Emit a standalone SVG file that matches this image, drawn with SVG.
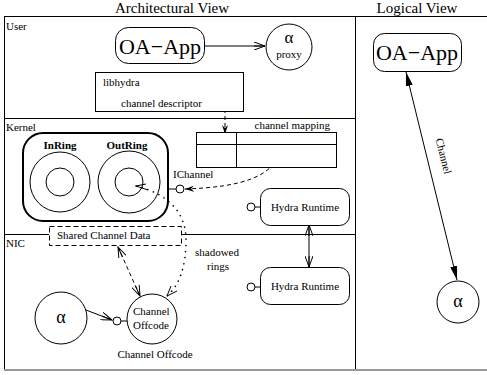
<svg xmlns="http://www.w3.org/2000/svg" width="487" height="375" viewBox="0 0 487 375">
<style>
text{font-family:"Liberation Serif","Times New Roman",Times,"DejaVu Serif",serif;fill:#000}
.s{font-size:11px}
.t{font-size:15px}
.big{font-size:22px}
.ln{fill:none;stroke:#000;stroke-width:1}
.fr{fill:none;stroke:#000;stroke-width:1}
.dash{fill:none;stroke:#000;stroke-width:1;stroke-dasharray:4 3}
.dot{fill:none;stroke:#000;stroke-width:1.6;stroke-dasharray:0.1 6;stroke-linecap:round}
.nd{fill:#fff;stroke:#000;stroke-width:1}
</style>
<defs>
<marker id="op" viewBox="0 0 12 8" refX="11" refY="4" markerWidth="12" markerHeight="8" markerUnits="userSpaceOnUse" orient="auto-start-reverse">
<path d="M0,0 L11,4 L0,8 M0,4 L11,4" fill="none" stroke="#000" stroke-width="1"/>
</marker>
<marker id="fl" viewBox="0 0 14 7" refX="14" refY="3.5" markerWidth="14" markerHeight="7" markerUnits="userSpaceOnUse" orient="auto-start-reverse">
<path d="M0,0 L14,3.5 L0,7 Z" fill="#000"/>
</marker>
<marker id="sm" viewBox="0 0 9 6" refX="9" refY="3" markerWidth="9" markerHeight="6" markerUnits="userSpaceOnUse" orient="auto-start-reverse">
<path d="M0,0 L9,3 L0,6 L3,3 Z" fill="#000"/>
</marker>
</defs>
<rect width="487" height="375" fill="#fff"/>
<text class="t" x="172" y="13" text-anchor="middle">Architectural View</text>
<text class="t" x="417" y="13" text-anchor="middle">Logical View</text>
<g id="frame">
<rect class="fr" x="4.5" y="16.5" width="483" height="353"/>
<line class="fr" x1="355.5" y1="16" x2="355.5" y2="370"/>
<line class="fr" x1="4" y1="118.5" x2="355" y2="118.5"/>
<line class="fr" x1="4" y1="234.5" x2="49" y2="234.5"/>
<line class="fr" x1="182" y1="234.5" x2="355" y2="234.5"/>
<line x1="4" y1="370" x2="487" y2="370" stroke="#999" stroke-width="2"/>
<text class="s" x="6" y="30">User</text>
<text class="s" x="6" y="131">Kernel</text>
<text class="s" x="6" y="247">NIC</text>
</g>
<g id="connectors">
<path class="ln" d="M204,46 L265,46" marker-end="url(#op)"/>
<path class="dash" d="M209,104 H225 V134" marker-start="url(#sm)" marker-end="url(#sm)"/>
<path class="dash" d="M185,189 C240,187 280,178 283,140" marker-start="url(#sm)" marker-end="url(#sm)"/>
<path class="dot" d="M136,186 C165,193 186,210 186,240 C186,265 180,285 167,296"/>
<path class="ln" d="M148,190 L136,186 M136,186 L146,184 M167,296 L171,286 M167,296 L177,291"/>
<path class="dash" d="M118,247 L140,296" stroke-width="1.3" marker-start="url(#op)" marker-end="url(#op)"/>
<path class="ln" d="M86,310 L112,320" stroke-width="1.3" marker-end="url(#op)"/>
<path class="ln" d="M309,225 V267" marker-start="url(#op)" marker-end="url(#op)"/>
<path class="ln" d="M406,72 L457,280" stroke-width="1.2" marker-start="url(#fl)" marker-end="url(#fl)"/>
<text class="s" transform="translate(440,157) rotate(76)" text-anchor="middle">Channel</text>
</g>
<g id="oa-app">
<rect class="nd" x="115.5" y="27.5" width="89" height="36" rx="13"/>
<text class="big" x="160" y="54" text-anchor="middle">OA−App</text>
</g>
<g id="proxy">
<circle class="nd" cx="289" cy="47" r="23"/>
<text x="289" y="43" text-anchor="middle" font-size="17">α</text>
<text class="s" x="289" y="58" text-anchor="middle">proxy</text>
</g>
<g id="libhydra">
<rect class="nd" x="95.5" y="72.5" width="148" height="39"/>
<text class="s" x="103" y="86">libhydra</text>
<text class="s" x="121" y="107">channel descriptor</text>
</g>
<g id="channel-mapping">
<text class="s" x="330" y="129" text-anchor="end">channel mapping</text>
<rect class="nd" x="196.5" y="132.5" width="140" height="35"/>
<line class="ln" x1="196" y1="144.5" x2="337" y2="144.5"/>
<line class="ln" x1="236.5" y1="132" x2="236.5" y2="168"/>
</g>
<g id="rings">
<rect x="23" y="133" width="145" height="88" rx="20" fill="none" stroke="#000" stroke-width="2"/>
<circle class="ln" cx="60" cy="182" r="30"/>
<circle class="ln" cx="60" cy="182" r="14"/>
<circle class="ln" cx="129" cy="182" r="31"/>
<circle class="ln" cx="129" cy="182" r="14"/>
<text class="s" x="60" y="149" text-anchor="middle" font-weight="bold">InRing</text>
<text class="s" x="127" y="149" text-anchor="middle" font-weight="bold">OutRing</text>
</g>
<g id="ichannel">
<line class="ln" x1="168" y1="189" x2="176" y2="189"/>
<circle class="nd" cx="180" cy="189" r="4"/>
<text class="s" x="173" y="178">IChannel</text>
</g>
<g id="hydra-runtime-kernel">
<line class="ln" x1="255" y1="207" x2="261" y2="207"/>
<circle class="nd" cx="251" cy="207" r="4"/>
<rect class="nd" x="260.5" y="188.5" width="89" height="37" rx="10"/>
<text class="s" x="305" y="211" text-anchor="middle">Hydra Runtime</text>
</g>
<g id="hydra-runtime-nic">
<line class="ln" x1="255" y1="287" x2="261" y2="287"/>
<circle class="nd" cx="251" cy="287" r="4"/>
<rect class="nd" x="260.5" y="267.5" width="89" height="37" rx="10"/>
<text class="s" x="305" y="290" text-anchor="middle">Hydra Runtime</text>
</g>
<g id="shared-channel-data">
<rect x="49.5" y="226.5" width="132" height="19" fill="#fff" stroke="#000" stroke-dasharray="5 3"/>
<text class="s" x="57" y="239">Shared Channel Data</text>
</g>
<g id="shadowed-label">
<text class="s" x="195" y="256">shadowed</text>
<text class="s" x="218" y="270" text-anchor="middle">rings</text>
</g>
<g id="alpha-nic">
<circle class="nd" cx="61" cy="318" r="26"/>
<text x="61" y="323" text-anchor="middle" font-size="18">α</text>
</g>
<g id="channel-offcode">
<line class="ln" x1="121" y1="321" x2="127" y2="321"/>
<circle class="nd" cx="117" cy="321" r="4"/>
<circle class="nd" cx="152" cy="319" r="25"/>
<text class="s" x="133" y="315">Channel</text>
<text class="s" x="133" y="329">Offcode</text>
<text class="s" x="155" y="358" text-anchor="middle">Channel Offcode</text>
</g>
<g id="oa-app-logical">
<rect class="nd" x="373.5" y="33.5" width="88" height="38" rx="11"/>
<text class="big" x="417" y="60" text-anchor="middle">OA−App</text>
</g>
<g id="alpha-logical">
<circle class="nd" cx="458" cy="302" r="21"/>
<text x="458" y="307" text-anchor="middle" font-size="18">α</text>
</g>
</svg>
